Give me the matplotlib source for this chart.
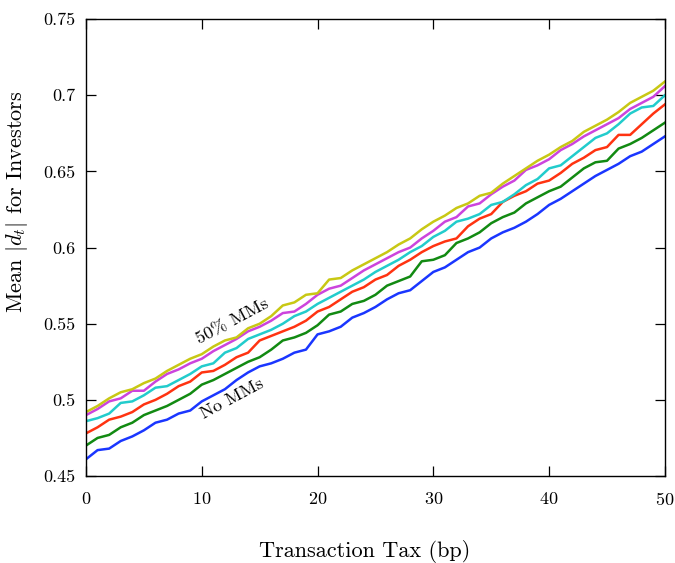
import matplotlib
matplotlib.use("Agg")
import matplotlib.pyplot as plt
import matplotlib.ticker as mticker

# transaction tax in basis points
tax = list(range(51))

# mean |d_t| for investors, one series per market-maker share
no_mms = [0.461, 0.467, 0.468, 0.473, 0.476, 0.480, 0.485, 0.487, 0.491, 0.493,
          0.499, 0.503, 0.507, 0.513, 0.518, 0.522, 0.524, 0.527, 0.531, 0.533,
          0.543, 0.545, 0.548, 0.554, 0.557, 0.561, 0.566, 0.570, 0.572, 0.578,
          0.584, 0.587, 0.592, 0.597, 0.600, 0.606, 0.610, 0.613, 0.617, 0.622,
          0.628, 0.632, 0.637, 0.642, 0.647, 0.651, 0.655, 0.660, 0.663, 0.668,
          0.673]
mms_10 = [0.470, 0.475, 0.477, 0.482, 0.485, 0.490, 0.493, 0.496, 0.500, 0.504,
          0.510, 0.513, 0.517, 0.521, 0.525, 0.528, 0.533, 0.539, 0.541, 0.544,
          0.549, 0.556, 0.558, 0.563, 0.565, 0.569, 0.575, 0.578, 0.581, 0.591,
          0.592, 0.595, 0.603, 0.606, 0.610, 0.616, 0.620, 0.623, 0.629, 0.633,
          0.637, 0.640, 0.646, 0.652, 0.656, 0.657, 0.665, 0.668, 0.672, 0.677,
          0.682]
mms_20 = [0.478, 0.482, 0.487, 0.489, 0.492, 0.497, 0.500, 0.504, 0.509, 0.512,
          0.518, 0.519, 0.523, 0.528, 0.531, 0.539, 0.542, 0.545, 0.548, 0.552,
          0.558, 0.561, 0.566, 0.571, 0.574, 0.579, 0.582, 0.588, 0.592, 0.597,
          0.601, 0.604, 0.606, 0.614, 0.619, 0.622, 0.630, 0.634, 0.637, 0.642,
          0.644, 0.649, 0.655, 0.659, 0.664, 0.666, 0.674, 0.674, 0.681, 0.688,
          0.694]
mms_30 = [0.486, 0.488, 0.491, 0.498, 0.499, 0.503, 0.508, 0.509, 0.513, 0.517,
          0.522, 0.524, 0.531, 0.534, 0.540, 0.543, 0.546, 0.550, 0.555, 0.558,
          0.563, 0.567, 0.571, 0.575, 0.579, 0.584, 0.588, 0.592, 0.597, 0.601,
          0.607, 0.611, 0.617, 0.619, 0.622, 0.628, 0.630, 0.635, 0.641, 0.645,
          0.652, 0.654, 0.660, 0.666, 0.672, 0.675, 0.681, 0.688, 0.692, 0.693,
          0.700]
mms_40 = [0.490, 0.494, 0.499, 0.501, 0.506, 0.506, 0.512, 0.517, 0.520, 0.524,
          0.527, 0.532, 0.536, 0.540, 0.545, 0.548, 0.552, 0.557, 0.558, 0.563,
          0.569, 0.573, 0.575, 0.580, 0.585, 0.589, 0.593, 0.597, 0.600, 0.606,
          0.611, 0.617, 0.620, 0.627, 0.629, 0.635, 0.640, 0.644, 0.651, 0.654,
          0.658, 0.664, 0.668, 0.673, 0.677, 0.681, 0.685, 0.691, 0.695, 0.699,
          0.706]
mms_50 = [0.492, 0.496, 0.501, 0.505, 0.507, 0.511, 0.514, 0.519, 0.523, 0.527,
          0.530, 0.535, 0.539, 0.541, 0.547, 0.550, 0.555, 0.562, 0.564, 0.569,
          0.570, 0.579, 0.580, 0.585, 0.589, 0.593, 0.597, 0.602, 0.606, 0.612,
          0.617, 0.621, 0.626, 0.629, 0.634, 0.636, 0.642, 0.647, 0.652, 0.657,
          0.661, 0.666, 0.670, 0.676, 0.680, 0.684, 0.689, 0.695, 0.699, 0.703,
          0.709]

series = [no_mms, mms_10, mms_20, mms_30, mms_40, mms_50]
colors = ["#1a36ff", "#128a12", "#ff3311", "#22cccc", "#cc44dd", "#c8c814"]

plt.rcParams.update({
    "font.family": ["cmr10", "DejaVu Serif"],
    "mathtext.fontset": "cm",
    "axes.formatter.use_mathtext": True,
    "font.size": 13,
})

fig = plt.figure(figsize=(6.75, 5.63), dpi=100)
ax = fig.add_axes([0.1274, 0.1545, 0.8576, 0.8115])

for ys, c in zip(series, colors):
    ax.plot(tax, ys, color=c, linewidth=1.8)

ax.text(12.7, 0.5515, "50% MMs", rotation=28, ha="center", va="center",
        fontsize=13)
ax.text(12.6, 0.5005, "No MMs", rotation=28, ha="center", va="center",
        fontsize=13)

ax.set_xlim(0, 50)
ax.set_ylim(0.45, 0.75)
ax.xaxis.set_major_locator(mticker.MultipleLocator(10))
ax.yaxis.set_major_locator(mticker.MultipleLocator(0.05))
ax.yaxis.set_major_formatter(mticker.FormatStrFormatter("%g"))
ax.tick_params(direction="in", length=7, width=0.9, top=True, right=True)
ax.tick_params(axis="x", pad=11)
ax.tick_params(axis="y", pad=8)
for s in ax.spines.values():
    s.set_linewidth(1.0)

ax.set_xlabel("Transaction Tax (bp)", fontsize=16)
ax.set_ylabel(r"Mean $|d_t|$ for Investors", fontsize=16)
ax.xaxis.set_label_coords(0.482, -0.14)
ax.yaxis.set_label_coords(-0.097, 0.60)

fig.savefig("out.png", dpi=100)
plt.close(fig)
